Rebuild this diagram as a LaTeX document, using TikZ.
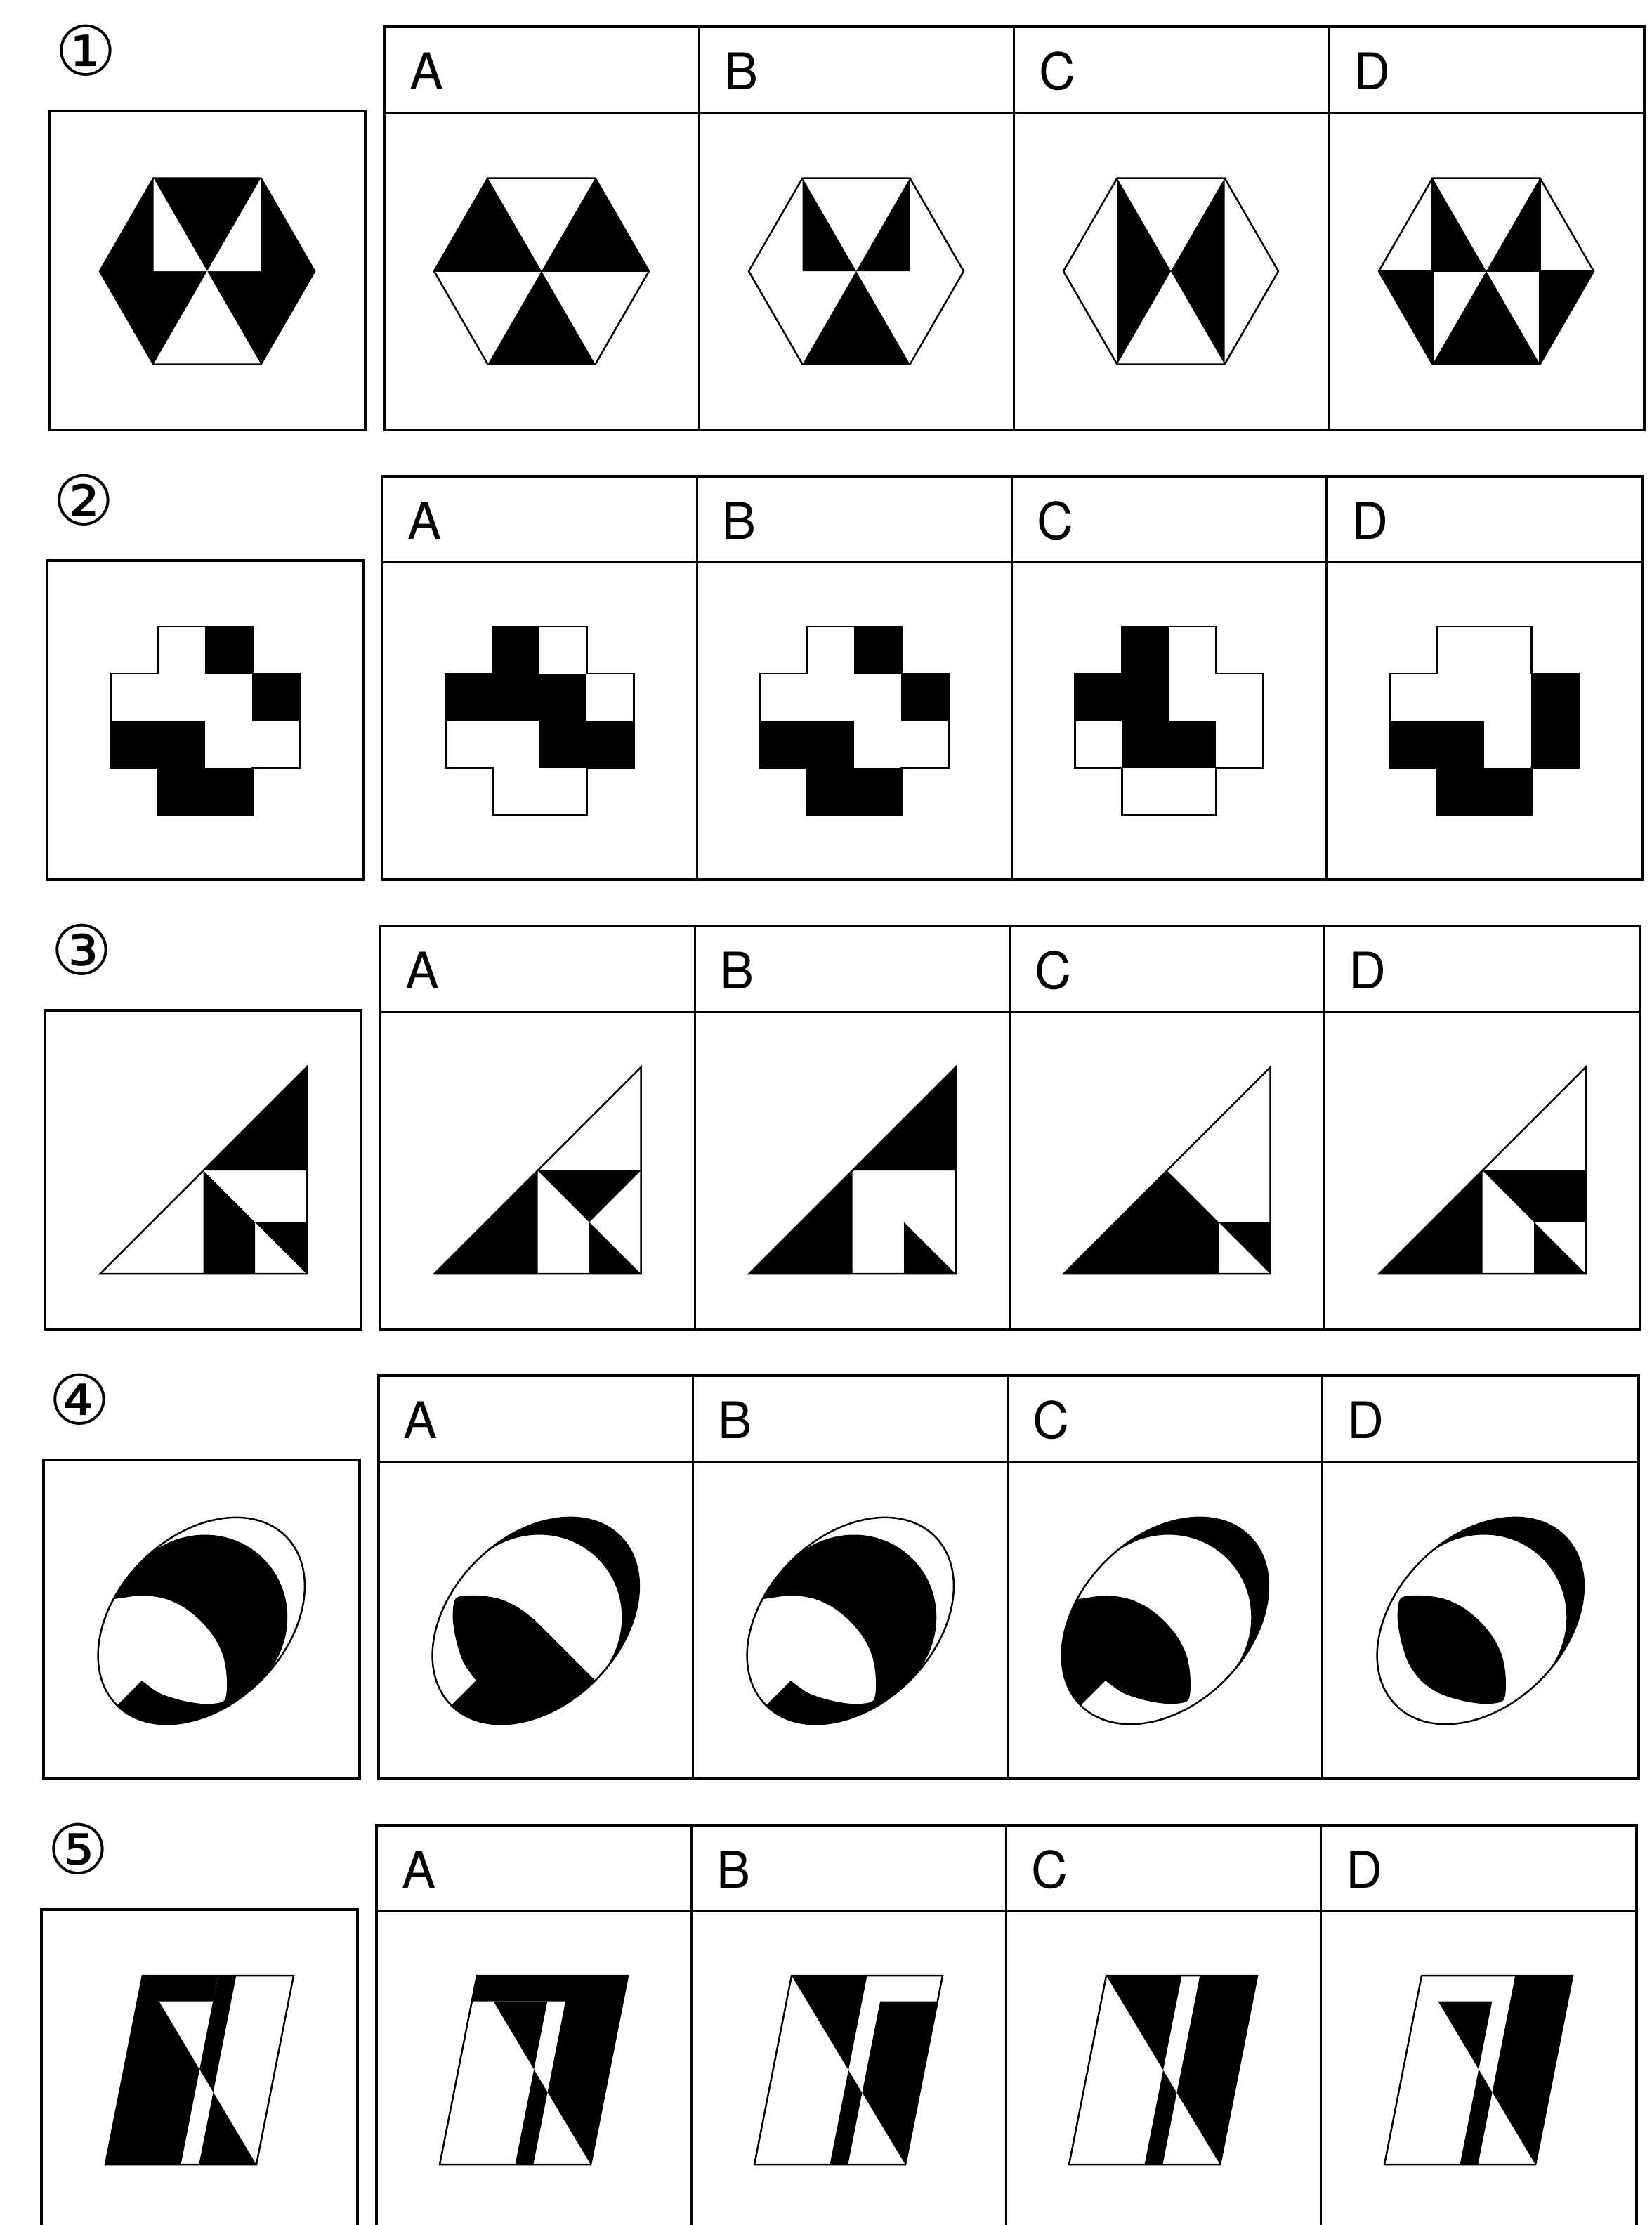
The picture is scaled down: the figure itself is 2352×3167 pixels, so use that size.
\documentclass[tikz,border=0pt]{standalone}
\usepackage{fontspec}
\setmainfont{TeX Gyre Heros}
\newfontfamily\circfont{DejaVu Sans}
\tikzset{
  frameline/.style={line width=3.5pt},
  divline/.style={line width=3pt},
  figline/.style={line width=2.5pt, line join=miter},
  optlabel/.style={font=\fontsize{72}{72}\selectfont, anchor=base west, inner sep=0pt},
  numlabel/.style={font=\circfont\fontsize{98}{98}\selectfont, inner sep=0pt},
  ellframe/.style={x={(0.7071pt,-0.7071pt)}, y={(0.7071pt,0.7071pt)}},
}
\newcommand\rowframe[2]{%
  \node[numlabel] (num#1) at (122,72) {#2};
  \draw[frameline] (70,158) rectangle (520,612);
  \draw[frameline] (547,38) rectangle (2341,612);
  \draw[divline] (547,160) -- (2341,160);
  \draw[divline] (995,38) -- (995,612) (1443,38) -- (1443,612) (1891,38) -- (1891,612);
  \node[optlabel] (optA#1) at (583,127) {A};
  \node[optlabel] (optB#1) at (1031,127) {B};
  \node[optlabel] (optC#1) at (1479,127) {C};
  \node[optlabel] (optD#1) at (1927,127) {D};
}
\newcommand\hexpts{%
  \coordinate (TL) at (-76.5,-132.5); \coordinate (TR) at (76.5,-132.5);
  \coordinate (R) at (153,0); \coordinate (BR) at (76.5,132.5);
  \coordinate (BL) at (-76.5,132.5); \coordinate (L) at (-153,0);
  \coordinate (O) at (0,0); \coordinate (ML) at (-76.5,0); \coordinate (MR) at (76.5,0);}
\newcommand\hexoutline{\draw[figline] (TL)--(TR)--(R)--(BR)--(BL)--(L)--cycle;}
\newcommand\gcell[2]{\fill ({-134+67*#1},{-134+67*#2}) rectangle ++(67,67);}
\newcommand\crossout{\draw[figline] (-67,-134)--(67,-134)--(67,-67)--(134,-67)--(134,67)--(67,67)--(67,134)--(-67,134)--(-67,67)--(-134,67)--(-134,-67)--(-67,-67)--cycle;}
\newcommand\triout{\draw[figline] (-147,147)--(147,147)--(147,-147)--cycle;}
\def\EoneP{(0,0) ellipse [x radius=120, y radius=170]}
\def\EtwoP{(120,0) arc[start angle=0,end angle=180,x radius=120,y radius=125] arc[start angle=180,end angle=360,x radius=120,y radius=170] -- cycle}
\def\CresP{(120,0) arc[start angle=0,end angle=180,x radius=120,y radius=170] arc[start angle=180,end angle=0,x radius=120,y radius=125] -- cycle}
\def\EthreeP{plot[smooth cycle] coordinates {(0,-1) (30,-4) (58,-14) (84,-33) (103,-57) (87,-80) (60,-100) (30,-115) (0,-120) (-30,-115) (-60,-100) (-87,-80) (-103,-57) (-84,-33) (-58,-14) (-30,-4)}}
\def\WP{(0,-220) -- (-220,-220) -- (-220,-100) -- plot[smooth] coordinates {(-114,-72) (-103,-57) (-84,-33) (-58,-14) (-30,-4) (0,-1) (30,-4) (58,-14) (84,-33) (103,-57) (87,-80) (60,-100) (30,-115) (0,-120)} -- cycle}
\def\AP{(0,0) -- (220,0) -- (220,-220) -- (0,-220) -- plot[smooth] coordinates {(0,-120) (-30,-115) (-60,-100) (-87,-80) (-103,-57) (-84,-33) (-58,-14) (-30,-4) (0,0)} -- cycle}
\newcommand\paraout{\draw[figline] (0,0)--(1,0)--(1,1)--(0,1)--cycle;}
\begin{document}
\begin{tikzpicture}[x=1pt, y=-1pt]
\useasboundingbox (0,0) rectangle (2352,3167);
\fill[white] (0,0) rectangle (2352,3167);
% ---------------- Row 1 ----------------
\begin{scope}[shift={(0,0)}]
\rowframe{1}{①}
\begin{scope}[shift={(295,386)}]\hexpts
  \fill (TL)--(TR)--(R)--(BR)--(BL)--(L)--cycle;
  \fill[white] (TL)--(ML)--(O)--cycle (TR)--(MR)--(O)--cycle (O)--(BL)--(BR)--cycle;
  \hexoutline
\end{scope}
\begin{scope}[shift={(771,386)}]\hexpts
  \fill (L)--(TL)--(O)--cycle (TR)--(R)--(O)--cycle (BL)--(BR)--(O)--cycle;
  \draw[figline] (L)--(R);
  \hexoutline
\end{scope}
\begin{scope}[shift={(1219,386)}]\hexpts
  \fill (TL)--(ML)--(O)--cycle (TR)--(MR)--(O)--cycle (O)--(BL)--(BR)--cycle;
  \hexoutline
\end{scope}
\begin{scope}[shift={(1667,386)}]\hexpts
  \fill (TL)--(BL)--(O)--cycle (TR)--(BR)--(O)--cycle;
  \hexoutline
\end{scope}
\begin{scope}[shift={(2116,386)}]\hexpts
  \fill (TL)--(ML)--(O)--cycle (TR)--(MR)--(O)--cycle (L)--(ML)--(BL)--cycle (O)--(BL)--(BR)--cycle (MR)--(R)--(BR)--cycle;
  \draw[figline] (L)--(R) (TL)--(BL) (TR)--(BR);
  \hexoutline
\end{scope}
\end{scope}
% ---------------- Row 2 ----------------
\begin{scope}[shift={(-2.75,640)}]
\rowframe{2}{②}
\begin{scope}[shift={(295,386)}]
  \gcell{2}{0}\gcell{3}{1}\gcell{0}{2}\gcell{1}{2}\gcell{1}{3}\gcell{2}{3}\crossout
\end{scope}
\begin{scope}[shift={(771,386)}]
  \gcell{1}{0}\gcell{0}{1}\gcell{1}{1}\gcell{2}{1}\gcell{2}{2}\gcell{3}{2}\crossout
\end{scope}
\begin{scope}[shift={(1219,386)}]
  \gcell{2}{0}\gcell{3}{1}\gcell{0}{2}\gcell{1}{2}\gcell{1}{3}\gcell{2}{3}\crossout
\end{scope}
\begin{scope}[shift={(1667,386)}]
  \gcell{1}{0}\gcell{0}{1}\gcell{1}{1}\gcell{1}{2}\gcell{2}{2}\crossout
\end{scope}
\begin{scope}[shift={(2116,386)}]
  \gcell{3}{1}\gcell{0}{2}\gcell{1}{2}\gcell{3}{2}\gcell{1}{3}\gcell{2}{3}\crossout
\end{scope}
\end{scope}
% ---------------- Row 3 ----------------
\begin{scope}[shift={(-5.5,1280)}]
\rowframe{3}{③}
\begin{scope}[shift={(295,386)}]
  \fill (0,0)--(147,0)--(147,-147)--cycle (0,0)--(73.5,73.5)--(73.5,147)--(0,147)--cycle (73.5,73.5)--(147,73.5)--(147,147)--cycle;
  \triout
\end{scope}
\begin{scope}[shift={(771,386)}]
  \fill (-147,147)--(0,147)--(0,0)--cycle (0,0)--(147,0)--(73.5,73.5)--cycle (73.5,73.5)--(73.5,147)--(147,147)--cycle;
  \triout
\end{scope}
\begin{scope}[shift={(1219,386)}]
  \fill (0,0)--(147,0)--(147,-147)--cycle (-147,147)--(0,147)--(0,0)--cycle (73.5,73.5)--(73.5,147)--(147,147)--cycle;
  \triout
\end{scope}
\begin{scope}[shift={(1667,386)}]
  \fill (-147,147)--(0,0)--(73.5,73.5)--(73.5,147)--cycle (73.5,73.5)--(147,73.5)--(147,147)--cycle;
  \triout
\end{scope}
\begin{scope}[shift={(2116,386)}]
  \fill (-147,147)--(0,147)--(0,0)--cycle (0,0)--(147,0)--(147,73.5)--(73.5,73.5)--cycle (73.5,73.5)--(73.5,147)--(147,147)--cycle;
  \triout
\end{scope}
\end{scope}
% ---------------- Row 4 ----------------
\begin{scope}[shift={(-8.25,1920)}]
\rowframe{4}{④}
\begin{scope}[shift={(295,387)}, ellframe]
  \begin{scope}\clip \EoneP; \fill \EtwoP; \fill[white] \WP; \end{scope}
  \draw[figline] \EoneP;
\end{scope}
\begin{scope}[shift={(771,387)}, ellframe]
  \fill \CresP;
  \begin{scope}\clip \EoneP; \fill \AP; \end{scope}
  \draw[figline] \EoneP;
\end{scope}
\begin{scope}[shift={(1219,387)}, ellframe]
  \begin{scope}\clip \EoneP; \fill \EtwoP; \fill[white] \WP; \end{scope}
  \draw[figline] \EoneP;
\end{scope}
\begin{scope}[shift={(1667,387)}, ellframe]
  \fill \CresP;
  \begin{scope}\clip \EoneP; \fill \WP; \end{scope}
  \draw[figline] \EoneP;
\end{scope}
\begin{scope}[shift={(2116,387)}, ellframe]
  \fill \CresP;
  \fill \EthreeP;
  \draw[figline] \EoneP;
\end{scope}
\end{scope}
% ---------------- Row 5 ----------------
\begin{scope}[shift={(-11,2560)}]
\rowframe{5}{⑤}
\begin{scope}[shift={(214,252)}, x={(215pt,0pt)}, y={(-53pt,-269pt)}]
  \fill (0,0)--(0.5,0)--(0.5,1)--(0,1)--cycle;
  \fill[white] (0.143,0.136)--(0.5,0.136)--(0.5,0.496)--cycle;
  \fill (0.5,0)--(0.62,0)--(0.62,0.617)--(0.5,0.496)--cycle;
  \fill (0.62,0.617)--(1,1)--(0.62,1)--cycle;
  \paraout
\end{scope}
\begin{scope}[shift={(690,252)}, x={(215pt,0pt)}, y={(-53pt,-269pt)}]
  \fill (0,0)--(1,0)--(1,0.136)--(0,0.136)--cycle;
  \fill (0.143,0.136)--(0.5,0.136)--(0.5,0.496)--cycle;
  \fill (0.5,0.496)--(0.62,0.617)--(0.62,1)--(0.5,1)--cycle;
  \fill (0.62,0.13)--(1,0.13)--(1,1)--(0.62,0.617)--cycle;
  \paraout
\end{scope}
\begin{scope}[shift={(1138,252)}, x={(215pt,0pt)}, y={(-53pt,-269pt)}]
  \fill (0,0)--(0.5,0)--(0.5,0.5)--cycle;
  \fill (0.5,0.5)--(0.62,0.62)--(0.62,1)--(0.5,1)--cycle;
  \fill (0.62,0.136)--(1,0.136)--(1,1)--(0.62,0.62)--cycle;
  \paraout
\end{scope}
\begin{scope}[shift={(1586,252)}, x={(215pt,0pt)}, y={(-53pt,-269pt)}]
  \fill (0,0)--(0.5,0)--(0.5,0.5)--cycle;
  \fill (0.5,0.5)--(0.62,0.62)--(0.62,1)--(0.5,1)--cycle;
  \fill (0.62,0)--(1,0)--(1,1)--(0.62,0.62)--cycle;
  \paraout
\end{scope}
\begin{scope}[shift={(2035,252)}, x={(215pt,0pt)}, y={(-53pt,-269pt)}]
  \fill (0.143,0.136)--(0.5,0.136)--(0.5,0.496)--cycle;
  \fill (0.5,0.496)--(0.62,0.617)--(0.62,1)--(0.5,1)--cycle;
  \fill (0.62,0)--(1,0)--(1,1)--(0.62,0.617)--cycle;
  \paraout
\end{scope}
\end{scope}
\end{tikzpicture}
\end{document}
